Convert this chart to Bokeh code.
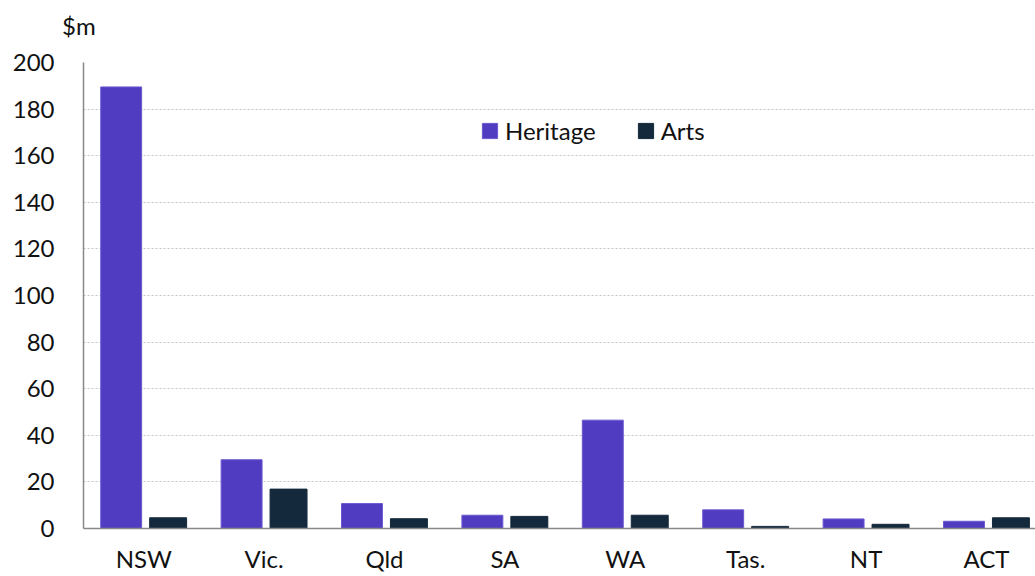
from bokeh.plotting import figure
from bokeh.models import Range1d, FixedTicker, Legend, LegendItem, ColumnDataSource, Div
from bokeh.layouts import column
from bokeh.embed import file_html
from bokeh.resources import INLINE

categories = ["NSW", "Vic.", "Qld", "SA", "WA", "Tas.", "NT", "ACT"]
heritage = [189.5, 29.5, 10.7, 5.7, 46.5, 8.0, 4.1, 3.1]
arts = [4.6, 16.9, 4.2, 5.2, 5.7, 0.9, 1.8, 4.6]
y_ticks = [0, 20, 40, 60, 80, 100, 120, 140, 160, 180, 200]
unit_text = "$m"

FONT = "Lato"
HER_COL = "#503CC0"
ART_COL = "#142A3C"

pos = [i + 0.5 for i in range(len(categories))]
src = ColumnDataSource(dict(
    xh=[x - 0.187 for x in pos],
    xa=[x + 0.203 for x in pos],
    heritage=heritage,
    arts=arts,
))

HEAD = 40
p = figure(width=1035, height=576 - HEAD, output_backend="svg", toolbar_location=None,
           x_range=Range1d(0, 7.907), y_range=Range1d(0, 200),
           min_border_left=83, min_border_right=0, min_border_top=62 - HEAD, min_border_bottom=48)
p.outline_line_color = None
p.background_fill_color = "white"
p.border_fill_color = "white"

rh = p.vbar(x="xh", top="heritage", width=0.34, bottom=0, source=src,
            fill_color=HER_COL, line_color="#6A58D0", line_width=1)
ra = p.vbar(x="xa", top="arts", width=0.307, bottom=0, source=src,
            fill_color=ART_COL, line_color=ART_COL, line_width=1)

p.xgrid.visible = False
p.ygrid.grid_line_color = "#c4c4c4"
p.ygrid.grid_line_dash = "2 2"
p.ygrid.grid_line_width = 1
p.ygrid.ticker = FixedTicker(ticks=y_ticks)

p.yaxis.ticker = FixedTicker(ticks=y_ticks)
p.xaxis.ticker = FixedTicker(ticks=pos)
p.xaxis.major_label_overrides = {x: c for x, c in zip(pos, categories)}

for ax in (p.xaxis, p.yaxis):
    ax.axis_line_color = "#888888"
    ax.axis_line_width = 1.5
    ax.major_tick_line_color = None
    ax.minor_tick_line_color = None
    ax.major_tick_out = 0
    ax.major_tick_in = 0
    ax.major_label_text_font = FONT
    ax.major_label_text_font_size = "24px"
    ax.major_label_text_color = "#111111"

p.yaxis.major_label_standoff = 29
p.xaxis.major_label_standoff = 15

legend = Legend(items=[LegendItem(label="Heritage", renderers=[rh]),
                       LegendItem(label="Arts", renderers=[ra])],
                orientation="horizontal", location=(397, 383),
                glyph_width=19, glyph_height=19, label_height=19,
                label_standoff=6, spacing=40, padding=0, margin=0,
                label_text_font=FONT, label_text_font_size="24px",
                label_text_color="#111111",
                background_fill_alpha=0, border_line_color=None)
p.add_layout(legend)

head = Div(text=('<div style="padding:11px 0 0 62px; margin:0; font-family:Lato; '
                 'font-size:24px; line-height:normal; color:#111111; white-space:nowrap">'
                 + unit_text + '</div>'),
           width=1035, height=HEAD, disable_math=True, margin=0)

layout = column(head, p, spacing=0)
open("out.html", "w").write(file_html(layout, INLINE))
